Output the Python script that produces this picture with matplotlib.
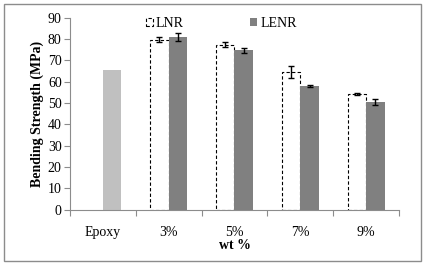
import numpy as np
import matplotlib
matplotlib.use('Agg')
import matplotlib.pyplot as plt
from matplotlib.patches import Rectangle

plt.rcParams['font.family'] = ['Liberation Serif', 'DejaVu Serif']

# Data
categories = ['Epoxy', '3%', '5%', '7%', '9%']
epoxy_value = 65.4
lnr_values = [79.6, 77.2, 64.4, 54.0]
lnr_errors = [1.3, 1.2, 2.8, 0.5]
lenr_values = [80.8, 74.6, 57.7, 50.3]
lenr_errors = [1.9, 1.3, 0.5, 1.4]

fig = plt.figure(figsize=(4.25, 2.65), dpi=100)
ax = fig.add_axes([0.1647, 0.2094, 0.7741, 0.7245])

# Outer chart border
fig.patches.append(Rectangle((4 / 425, 4 / 265), 417 / 425, 257 / 265,
                             transform=fig.transFigure, fill=False,
                             ec='#8c8c8c', lw=1))

width = 0.28
x = np.arange(1, len(categories))

# Epoxy reference bar
ax.bar(0 + width / 2, epoxy_value, width, color='#c0c0c0')

# LNR: dashed outline
ax.bar(x - width / 2, lnr_values, width, facecolor='white', edgecolor='black',
       linestyle=(0, (3, 2)), linewidth=0.8, label='LNR')
ax.errorbar(x - width / 2, lnr_values, yerr=lnr_errors, fmt='none',
            ecolor='black', elinewidth=1, capsize=2.5, capthick=1)

# LENR: solid grey
ax.bar(x + width / 2, lenr_values, width, color='#808080', label='LENR')
ax.errorbar(x + width / 2, lenr_values, yerr=lenr_errors, fmt='none',
            ecolor='black', elinewidth=1, capsize=2.5, capthick=1)

ax.set_xlim(-0.5, len(categories) - 0.5)
ax.set_ylim(0, 90)
ax.set_yticks(np.arange(0, 91, 10))

for side in ['top', 'right']:
    ax.spines[side].set_visible(False)
for side in ['left', 'bottom']:
    ax.spines[side].set_color('#8c8c8c')

ax.set_xticks(np.arange(-0.5, len(categories), 1.0))
ax.set_xticklabels([])
ax.set_xticks(np.arange(len(categories)), minor=True)
ax.set_xticklabels(categories, minor=True, fontsize=10)
ax.tick_params(axis='x', which='minor', length=0, pad=12)
ax.tick_params(axis='x', which='major', length=4, color='#8c8c8c')
ax.tick_params(axis='y', length=4, color='#8c8c8c', labelsize=10, pad=2)

ax.set_xlabel('wt %', fontsize=10, fontweight='bold', labelpad=0)
ax.set_ylabel('Bending Strength (MPa)', fontsize=10, fontweight='bold',
              labelpad=3)

ax.legend(loc='upper center', bbox_to_anchor=(0.46, 1.07), ncol=2,
          frameon=False, fontsize=10, handlelength=0.5, handleheight=0.5,
          handletextpad=0.2, columnspacing=4.8)

fig.savefig('out.png', dpi=100)
